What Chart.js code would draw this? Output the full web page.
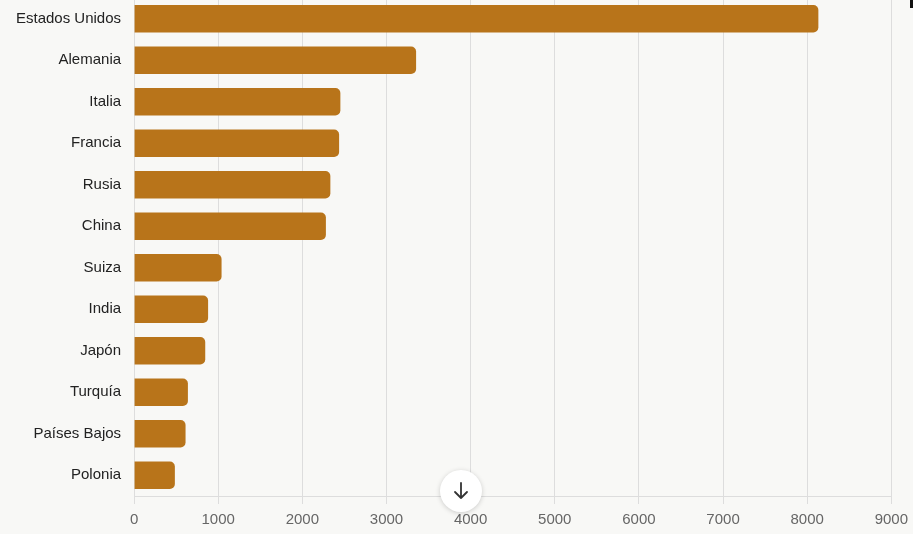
<!DOCTYPE html>
<html>
<head>
<meta charset="utf-8">
<script src="https://cdn.jsdelivr.net/npm/chart.js@4"></script>
<style>
  html, body { margin: 0; padding: 0; background: #f8f8f6; overflow: hidden; }
  #wrap { position: absolute; left: 0; top: -16px; width: 915px; height: 552px; }
  #scrollBtn {
    position: absolute; left: 440px; top: 470px; width: 42px; height: 42px;
    border-radius: 50%; background: #fff;
    box-shadow: 0 1px 5px rgba(0,0,0,0.18);
    display: flex; align-items: center; justify-content: center;
  }
  #mark { position: absolute; left: 910px; top: 0; width: 3px; height: 8px; background: #111; }
</style>
</head>
<body>
<div id="wrap"><canvas id="chartCanvas"></canvas></div>
<div id="scrollBtn">
  <svg width="18" height="20" viewBox="0 0 18 20">
    <path d="M9 2 V17 M3 11 L9 17 L15 11" stroke="#333" stroke-width="1.8" fill="none" stroke-linecap="round" stroke-linejoin="round"/>
  </svg>
</div>
<div id="mark"></div>
<script>
const countries = ["Estados Unidos", "Alemania", "Italia", "Francia", "Rusia", "China",
                   "Suiza", "India", "Japón", "Turquía", "Países Bajos", "Polonia"];
const reserves = [8133, 3352, 2452, 2437, 2333, 2280, 1040, 880, 846, 640, 612, 485];
const xTicks = [0, 1000, 2000, 3000, 4000, 5000, 6000, 7000, 8000, 9000];

Chart.defaults.font.family = "'Liberation Sans', Arial, sans-serif";

const canvas = document.getElementById("chartCanvas");
canvas.width = 915;
canvas.height = 552;

new Chart(canvas, {
  type: "bar",
  data: {
    labels: countries,
    datasets: [{
      data: reserves,
      backgroundColor: "#b8741a",
      borderRadius: 5,
      borderSkipped: "start",
      categoryPercentage: 1,
      barPercentage: 0.66
    }]
  },
  options: {
    indexAxis: "y",
    responsive: false,
    animation: false,
    layout: { padding: { left: 11, right: 4, top: 0, bottom: 0 } },
    plugins: { legend: { display: false }, tooltip: { enabled: false } },
    scales: {
      x: {
        min: 0,
        max: 9000,
        afterBuildTicks: (axis) => { axis.ticks = xTicks.map(v => ({ value: v })); },
        grid: { color: "#dddddd", tickLength: 8 },
        border: { color: "#dddddd" },
        ticks: { color: "#666", font: { size: 15 }, padding: 7, callback: (v) => String(v) }
      },
      y: {
        grid: { display: false },
        border: { display: true, color: "#dddddd" },
        ticks: { color: "#222", font: { size: 15 }, padding: 5 }
      }
    }
  }
});
</script>
</body>
</html>
